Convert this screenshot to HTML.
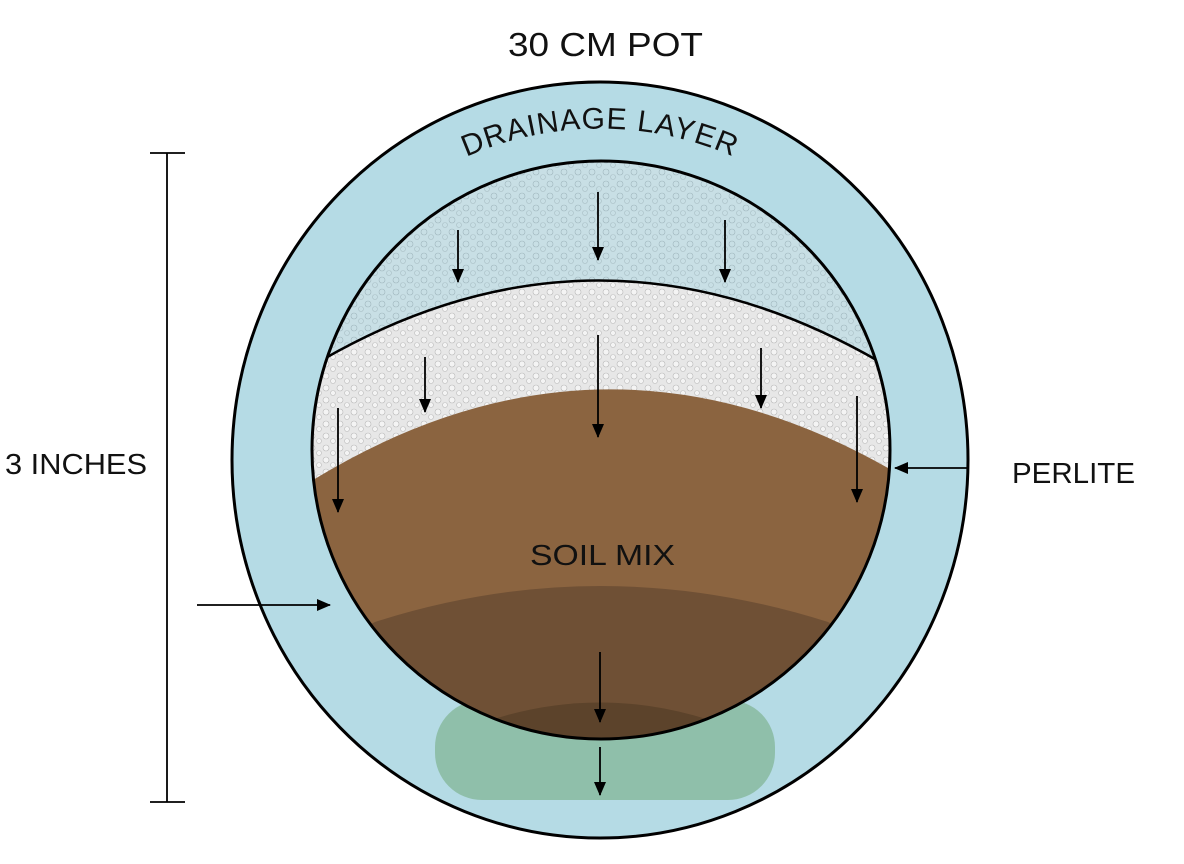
<!DOCTYPE html>
<html><head><meta charset="utf-8"><style>body{margin:0;background:#fff}svg{display:block}</style></head>
<body>
<svg width="1184" height="864" viewBox="0 0 1184 864" xmlns="http://www.w3.org/2000/svg" font-family="Liberation Sans, sans-serif">
<defs>
<marker id="a" markerWidth="14" markerHeight="14" refX="13" refY="6" orient="auto" markerUnits="userSpaceOnUse" viewBox="0 0 14 12"><path d="M0,0 L14,6 L0,12 z" fill="#000"/></marker>
<clipPath id="outer"><ellipse cx="600" cy="460" rx="368" ry="378"/></clipPath>
<clipPath id="inner"><circle cx="601" cy="450" r="289"/></clipPath>
<pattern id="dots" width="14" height="12" patternUnits="userSpaceOnUse"><circle cx="4" cy="4" r="3" fill="none" stroke="#9fb6bd" stroke-width="0.6"/><circle cx="11" cy="9" r="2.5" fill="none" stroke="#a9bfc5" stroke-width="0.6"/></pattern>
<pattern id="dots2" width="14" height="12" patternUnits="userSpaceOnUse"><circle cx="4" cy="4" r="3" fill="#f4f4f4" stroke="#b8b8b8" stroke-width="0.6"/><circle cx="11" cy="9" r="2.5" fill="#f4f4f4" stroke="#bdbdbd" stroke-width="0.6"/></pattern>
<path id="arc" d="M 440 170 A 330 330 0 0 1 760 170"/>
</defs>
<ellipse cx="600" cy="460" rx="368" ry="378" fill="#b5dbe5"/>
<g clip-path="url(#outer)">
<rect x="435" y="700" width="340" height="100" rx="47" fill="#8fbfaa"/>
</g>
<g clip-path="url(#inner)">
<rect x="300" y="150" width="600" height="620" fill="#c8dfe5"/>
<rect x="300" y="150" width="600" height="620" fill="url(#dots)"/>
<path d="M300,370 L322,360 Q600,200 880,362 L900,370 V770 H300z" fill="#e7e7e7"/>
<path d="M300,370 L322,360 Q600,200 880,362 L900,370 V770 H300z" fill="url(#dots2)"/>
<path d="M300,485 L313,480 Q600,305 888,468 L900,470 V770 H300z" fill="#8b6440"/>
<path d="M300,660 L375,622 Q600,550 828,622 L900,660 V770 H300z" fill="#6f5035"/>
<path d="M440,740 Q600,665 760,740 V770 H440z" fill="#5c432b"/>
<path d="M322,360 Q600,200 880,362" fill="none" stroke="#000" stroke-width="2.5"/>
</g>
<circle cx="601" cy="450" r="289" fill="none" stroke="#000" stroke-width="3"/>
<ellipse cx="600" cy="460" rx="368" ry="378" fill="none" stroke="#000" stroke-width="3"/>
<g stroke="#000" stroke-width="1.8" marker-end="url(#a)">
<line x1="458" y1="230" x2="458" y2="282"/>
<line x1="598" y1="192" x2="598" y2="260"/>
<line x1="725" y1="220" x2="725" y2="282"/>
<line x1="425" y1="357" x2="425" y2="412"/>
<line x1="598" y1="335" x2="598" y2="437"/>
<line x1="761" y1="348" x2="761" y2="408"/>
<line x1="338" y1="408" x2="338" y2="512"/>
<line x1="857" y1="396" x2="857" y2="502"/>
<line x1="600" y1="652" x2="600" y2="722"/>
<line x1="600" y1="747" x2="600" y2="795"/>
<line x1="197" y1="605" x2="330" y2="605"/>
<line x1="968" y1="468" x2="895" y2="468"/>
</g>
<g stroke="#000" stroke-width="1.8">
<line x1="167" y1="153" x2="167" y2="802"/>
<line x1="150" y1="153" x2="185" y2="153"/>
<line x1="150" y1="802" x2="185" y2="802"/>
</g>
<text x="508" y="56" font-size="33" textLength="195" lengthAdjust="spacingAndGlyphs" fill="#111">30 CM POT</text>
<text font-size="30" fill="#111" letter-spacing="1"><textPath href="#arc" startOffset="50%" text-anchor="middle">DRAINAGE LAYER</textPath></text>
<text x="530" y="565" font-size="29" textLength="145" lengthAdjust="spacingAndGlyphs" fill="#111">SOIL MIX</text>
<text x="5" y="474" font-size="29" textLength="142" lengthAdjust="spacingAndGlyphs" fill="#111">3 INCHES</text>
<text x="1012" y="483" font-size="29" textLength="123" lengthAdjust="spacingAndGlyphs" fill="#111">PERLITE</text>
</svg>
</body></html>
